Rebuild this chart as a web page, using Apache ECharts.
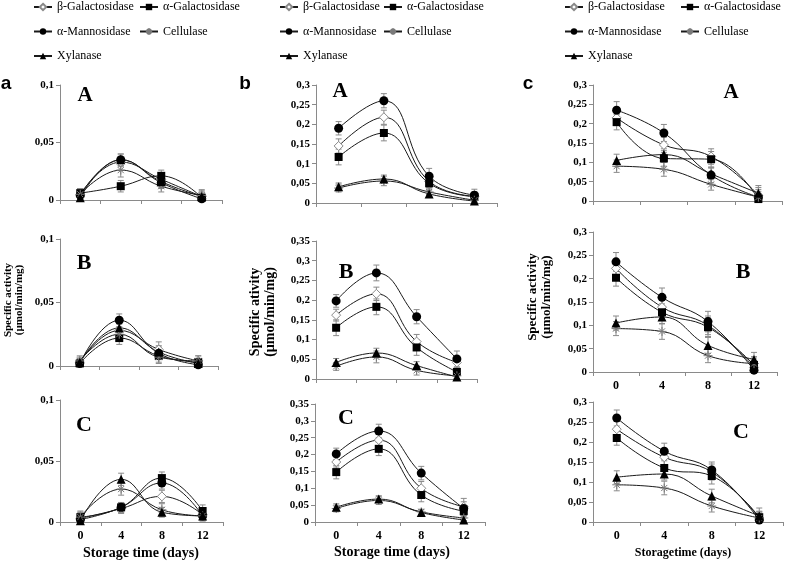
<!DOCTYPE html>
<html><head><meta charset="utf-8">
<script src="https://cdn.jsdelivr.net/npm/echarts@6/dist/echarts.min.js"></script>
<style>html,body{margin:0;padding:0;background:#fff}#c{width:787px;height:561px}</style>
</head><body><div id="c"></div>
<script>
const days = ['0', '4', '8', '12'];
const enzymes = ['β-Galactosidase', 'α-Galactosidase', 'α-Mannosidase', 'Cellulase', 'Xylanase'];

// Values per panel, rows in enzyme order: β-Gal, α-Gal, α-Man, Cellulase, Xylanase
const aA = [[0.005,0.033,0.018,0.003],[0.006,0.012,0.021,0.002],[0.004,0.035,0.015,0.001],[0.005,0.026,0.012,0.004],[0.002,0.035,0.016,0.003]];
const aA_err = [[0.005,0.004,0.005,0.005],[0.004,0.005,0.005,0.004],[0.004,0.005,0.005,0.004],[0.005,0.006,0.005,0.005],[0.004,0.005,0.005,0.004]];
const aB = [[0.003,0.028,0.013,0.004],[0.002,0.022,0.008,0.003],[0.002,0.036,0.010,0.001],[0.004,0.025,0.007,0.004],[0.003,0.030,0.011,0.002]];
const aB_err = [[0.004,0.005,0.006,0.004],[0.003,0.005,0.005,0.003],[0.003,0.005,0.005,0.003],[0.004,0.005,0.005,0.004],[0.003,0.005,0.005,0.003]];
const aC = [[0.003,0.011,0.021,0.006],[0.004,0.012,0.036,0.009],[0.002,0.012,0.032,0.005],[0.004,0.027,0.010,0.005],[0.001,0.035,0.008,0.005]];
const aC_err = [[0.005,0.004,0.005,0.004],[0.004,0.004,0.005,0.005],[0.004,0.004,0.005,0.004],[0.005,0.005,0.005,0.004],[0.004,0.005,0.004,0.004]];
const bA = [[0.145,0.218,0.055,0.017],[0.117,0.178,0.050,0.016],[0.190,0.260,0.068,0.020],[0.038,0.056,0.028,0.007],[0.041,0.061,0.023,0.005]];
const bA_err = [[0.018,0.018,0.016,0.012],[0.020,0.020,0.015,0.010],[0.017,0.018,0.020,0.015],[0.010,0.012,0.010,0.006],[0.010,0.010,0.008,0.005]];
const bB = [[0.162,0.216,0.095,0.042],[0.130,0.183,0.080,0.018],[0.198,0.269,0.158,0.051],[0.032,0.056,0.022,0.008],[0.042,0.066,0.034,0.005]];
const bB_err = [[0.015,0.017,0.018,0.015],[0.020,0.020,0.020,0.010],[0.016,0.020,0.018,0.020],[0.010,0.015,0.012,0.008],[0.010,0.012,0.010,0.006]];
const bC = [[0.178,0.243,0.100,0.045],[0.148,0.217,0.080,0.032],[0.202,0.270,0.145,0.040],[0.040,0.064,0.030,0.012],[0.044,0.068,0.028,0.006]];
const bC_err = [[0.015,0.017,0.020,0.025],[0.020,0.020,0.020,0.015],[0.017,0.020,0.020,0.020],[0.010,0.012,0.008,0.008],[0.010,0.010,0.008,0.006]];
const cA = [[0.215,0.145,0.115,0.015],[0.204,0.110,0.108,0.005],[0.235,0.176,0.067,0.010],[0.090,0.082,0.043,0.010],[0.105,0.120,0.070,0.020]];
const cA_err = [[0.020,0.020,0.020,0.020],[0.020,0.020,0.020,0.015],[0.022,0.022,0.020,0.020],[0.016,0.018,0.015,0.015],[0.016,0.015,0.015,0.020]];
const cB = [[0.222,0.139,0.100,0.010],[0.202,0.128,0.096,0.015],[0.236,0.160,0.108,0.004],[0.093,0.087,0.035,0.018],[0.105,0.118,0.057,0.027]];
const cB_err = [[0.020,0.020,0.020,0.015],[0.018,0.018,0.020,0.015],[0.020,0.020,0.022,0.015],[0.015,0.017,0.015,0.015],[0.015,0.015,0.017,0.015]];
const cC = [[0.232,0.162,0.125,0.010],[0.210,0.135,0.115,0.012],[0.260,0.177,0.130,0.005],[0.093,0.085,0.040,0.010],[0.112,0.120,0.065,0.015]];
const cC_err = [[0.020,0.020,0.020,0.015],[0.018,0.018,0.020,0.015],[0.020,0.020,0.020,0.015],[0.015,0.017,0.015,0.015],[0.016,0.015,0.017,0.020]];

const panels = [
  {vals: aA, errs: aA_err, max: 0.1,  grid: {left: 60,  top: 85,  width: 162, height: 115}, xl: false},
  {vals: aB, errs: aB_err, max: 0.1,  grid: {left: 60,  top: 239, width: 158, height: 127}, xl: false},
  {vals: aC, errs: aC_err, max: 0.1,  grid: {left: 60,  top: 400, width: 163, height: 122}, xl: true},
  {vals: bA, errs: bA_err, max: 0.3,  grid: {left: 316, top: 85,  width: 181, height: 118}, xl: false},
  {vals: bB, errs: bB_err, max: 0.35, grid: {left: 316, top: 241, width: 161, height: 138}, xl: false},
  {vals: bC, errs: bC_err, max: 0.35, grid: {left: 315, top: 404, width: 170, height: 118}, xl: true},
  {vals: cA, errs: cA_err, max: 0.3,  grid: {left: 593, top: 85,  width: 189, height: 116}, xl: false},
  {vals: cB, errs: cB_err, max: 0.3,  grid: {left: 593, top: 232, width: 184, height: 140}, xl: true},
  {vals: cC, errs: cC_err, max: 0.3,  grid: {left: 593, top: 402, width: 190, height: 120}, xl: true}
];

const SERIF = 'Liberation Serif, Times New Roman, serif';
const SANS = 'Liberation Sans, Arial, sans-serif';
const AX = '#8a8a8a';
const asterisk = 'path://M0,5L10,5M5,0L5,10M1.6,1.6L8.4,8.4M1.6,8.4L8.4,1.6';
const styles = [
  {symbol: 'diamond', symbolSize: 9, itemStyle: {color: '#fff', borderColor: '#8a8a8a', borderWidth: 1}},
  {symbol: 'rect', symbolSize: 8, itemStyle: {color: '#000', borderWidth: 0}},
  {symbol: 'circle', symbolSize: 9, itemStyle: {color: '#000', borderWidth: 0}},
  {symbol: asterisk, symbolSize: 9, itemStyle: {color: 'rgba(0,0,0,0)', borderColor: '#7a7a7a', borderWidth: 1}},
  {symbol: 'triangle', symbolSize: 9, itemStyle: {color: '#000', borderWidth: 0}}
];

const grids = [], xAxes = [], yAxes = [], series = [];
panels.forEach((p, i) => {
  grids.push(Object.assign({outerBoundsMode: 'none', containLabel: false}, p.grid));
  xAxes.push({
    type: 'category', gridIndex: i, data: days, boundaryGap: true,
    axisLine: {show: true, lineStyle: {color: AX, width: 1}},
    axisTick: {show: true, length: 4, inside: false, lineStyle: {color: AX}},
    axisLabel: {show: p.xl, color: '#000', fontFamily: SERIF, fontWeight: 'bold', fontSize: 12, margin: 8},
    splitLine: {show: false}
  });
  yAxes.push({
    type: 'value', gridIndex: i, min: 0, max: p.max, interval: 0.05,
    axisLine: {show: true, lineStyle: {color: AX, width: 1}},
    axisTick: {show: true, length: 4, inside: false, lineStyle: {color: AX}},
    axisLabel: {color: '#000', fontFamily: SERIF, fontWeight: 'bold', fontSize: 11, margin: 6,
      formatter: v => String(Math.round(v * 100) / 100).replace('.', ',')},
    splitLine: {show: false}
  });
  const errData = [];
  p.vals.forEach((row, k) => {
    row.forEach((v, j) => {
      const e = p.errs[k][j];
      errData.push([j, Math.max(0, v - e), v + e]);
    });
  });
  series.push({
    type: 'custom', name: 'err', xAxisIndex: i, yAxisIndex: i, z: 1, silent: true, clip: false,
    data: errData, encode: {x: 0, y: [1, 2]},
    renderItem: (params, api) => {
      const x = api.value(0);
      const a = api.coord([x, api.value(2)]);
      const b = api.coord([x, api.value(1)]);
      const w = 3, st = {stroke: '#8a8a8a', lineWidth: 1};
      return {type: 'group', children: [
        {type: 'line', shape: {x1: a[0], y1: a[1], x2: b[0], y2: b[1]}, style: st},
        {type: 'line', shape: {x1: a[0] - w, y1: a[1], x2: a[0] + w, y2: a[1]}, style: st},
        {type: 'line', shape: {x1: b[0] - w, y1: b[1], x2: b[0] + w, y2: b[1]}, style: st}
      ]};
    }
  });
  p.vals.forEach((row, k) => {
    series.push(Object.assign({
      type: 'line', name: enzymes[k], xAxisIndex: i, yAxisIndex: i, data: row,
      smooth: 0.45, z: 3, silent: true,
      lineStyle: {color: '#1a1a1a', width: 1},
      emphasis: {disabled: true}
    }, styles[k]));
  });
});

const legendBase = {
  orient: 'vertical', top: 1, padding: 0, itemGap: 12.5, itemWidth: 18, itemHeight: 8,
  selectedMode: false, textStyle: {fontFamily: SERIF, fontSize: 12, color: '#000'}
};
const legends = [
  {left: 33, data: [enzymes[0], enzymes[2], enzymes[4]]},
  {left: 139, data: [enzymes[1], enzymes[3]]},
  {left: 279, data: [enzymes[0], enzymes[2], enzymes[4]]},
  {left: 383, data: [enzymes[1], enzymes[3]]},
  {left: 564, data: [enzymes[0], enzymes[2], enzymes[4]]},
  {left: 680, data: [enzymes[1], enzymes[3]]}
].map(l => Object.assign({}, legendBase, l));

function txt(x, y, text, font, opts) {
  return Object.assign({type: 'text', x: x, y: y, silent: true,
    style: {text: text, font: font, fill: '#000', textAlign: 'center', textVerticalAlign: 'middle'}}, opts || {});
}
const graphics = [
  txt(6, 84, 'a', 'bold 19px ' + SANS),
  txt(245, 84, 'b', 'bold 19px ' + SANS),
  txt(528, 84, 'c', 'bold 19px ' + SANS),
  txt(85, 96, 'A', 'bold 21px ' + SERIF),
  txt(84, 263, 'B', 'bold 22px ' + SERIF),
  txt(84, 425, 'C', 'bold 22px ' + SERIF),
  txt(340, 92, 'A', 'bold 21px ' + SERIF),
  txt(346, 272, 'B', 'bold 22px ' + SERIF),
  txt(346, 418, 'C', 'bold 22px ' + SERIF),
  txt(731, 93, 'A', 'bold 21px ' + SERIF),
  txt(743, 272, 'B', 'bold 22px ' + SERIF),
  txt(741, 432, 'C', 'bold 22px ' + SERIF),
  txt(141, 553, 'Storage time (days)', 'bold 14px ' + SERIF),
  txt(392, 552, 'Storage time (days)', 'bold 14px ' + SERIF),
  txt(683, 553, 'Storagetime (days)', 'bold 12px ' + SERIF),
  Object.assign(txt(14, 300, 'Specific activity\n(µmol/min/mg)', 'bold 11px ' + SERIF), {rotation: Math.PI / 2}),
  Object.assign(txt(263, 312, 'Specific ativity\n(µmol/min/mg)', 'bold 14px ' + SERIF), {rotation: Math.PI / 2}),
  Object.assign(txt(540, 297, 'Specific activity\n(µmol/min/mg)', 'bold 13px ' + SERIF), {rotation: Math.PI / 2})
];
graphics.slice(-3).forEach((g, i) => { g.style.lineHeight = [11, 15, 14][i]; });

const chart = echarts.init(document.getElementById('c'), null, {renderer: 'canvas'});
chart.setOption({
  animation: false,
  backgroundColor: '#fff',
  legend: legends,
  grid: grids,
  xAxis: xAxes,
  yAxis: yAxes,
  series: series,
  graphic: graphics
});
</script>
</body></html>
